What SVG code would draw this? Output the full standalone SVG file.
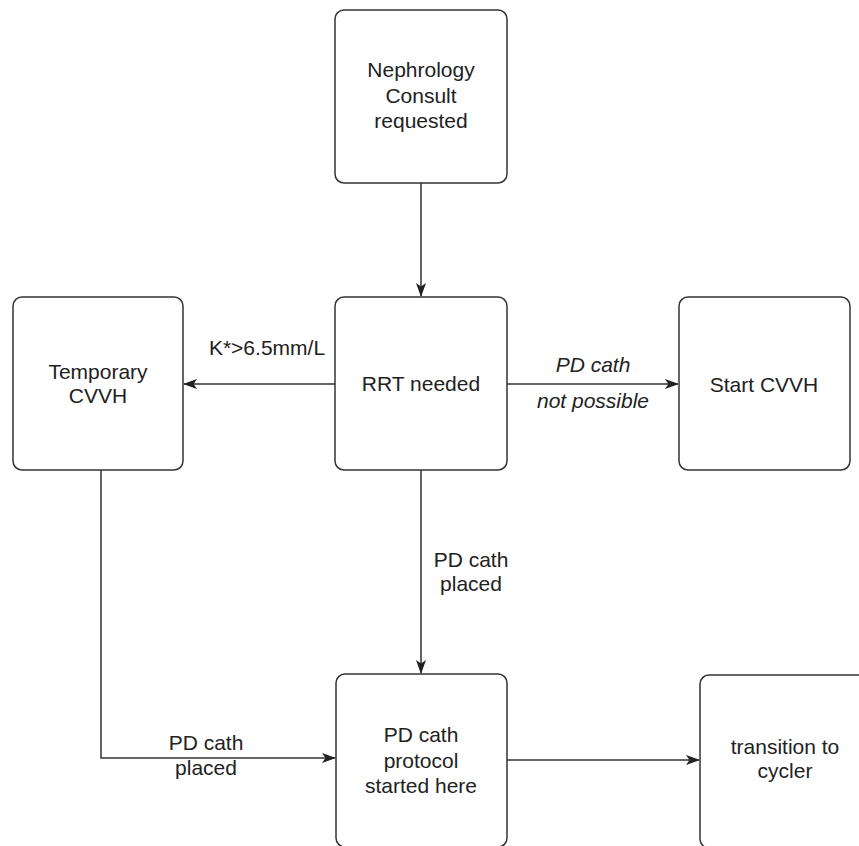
<svg xmlns="http://www.w3.org/2000/svg" width="859" height="846" viewBox="0 0 859 846">
<defs>
<style>
.box{fill:#fff;stroke:#333;stroke-width:1.5}
.t{font-family:"Liberation Sans",Arial,sans-serif;font-size:21px;fill:#222;text-anchor:middle}
.i{font-style:italic}
.c{fill:none;stroke:#333;stroke-width:1.5}
</style>
<marker id="ah" viewBox="0 0 14 10" refX="13" refY="5" markerWidth="14" markerHeight="10" markerUnits="userSpaceOnUse" orient="auto">
<path d="M0,0 L14,5 L0,10 L3.5,5 Z" fill="#222"/>
</marker>
</defs>
<rect width="859" height="846" fill="#fff"/>
<g id="connectors">
<line class="c" x1="421" y1="183" x2="421" y2="296" marker-end="url(#ah)"/>
<line class="c" x1="335" y1="384" x2="184" y2="384" marker-end="url(#ah)"/>
<line class="c" x1="507" y1="384" x2="678" y2="384" marker-end="url(#ah)"/>
<line class="c" x1="421" y1="470" x2="421" y2="673" marker-end="url(#ah)"/>
<polyline class="c" points="101,470 101,758 335,758" marker-end="url(#ah)"/>
<line class="c" x1="507" y1="760" x2="699" y2="760" marker-end="url(#ah)"/>
<text class="t" x="267" y="355">K*&gt;6.5mm/L</text>
<text class="t i" x="593" y="372">PD cath</text>
<text class="t i" x="593" y="408">not possible</text>
<text class="t" x="471" y="567">PD cath</text>
<text class="t" x="471" y="591">placed</text>
<text class="t" x="206" y="750">PD cath</text>
<text class="t" x="206" y="775">placed</text>
</g>
<g id="nephrology">
<rect class="box" x="335" y="10" width="172" height="173" rx="9"/>
<text class="t" x="421" y="77">Nephrology</text>
<text class="t" x="421" y="103">Consult</text>
<text class="t" x="421" y="128">requested</text>
</g>
<g id="temp-cvvh">
<rect class="box" x="13" y="297" width="170" height="173" rx="9"/>
<text class="t" x="98" y="379">Temporary</text>
<text class="t" x="98" y="403">CVVH</text>
</g>
<g id="rrt">
<rect class="box" x="335" y="297" width="172" height="173" rx="9"/>
<text class="t" x="421" y="391">RRT needed</text>
</g>
<g id="start-cvvh">
<rect class="box" x="679" y="297" width="171" height="173" rx="9"/>
<text class="t" x="764" y="392">Start CVVH</text>
</g>
<g id="pd-protocol">
<rect class="box" x="336" y="674" width="171" height="173" rx="9"/>
<text class="t" x="421" y="742">PD cath</text>
<text class="t" x="421" y="768">protocol</text>
<text class="t" x="421" y="793">started here</text>
</g>
<g id="cycler">
<rect class="box" x="700" y="675" width="171" height="173" rx="9"/>
<text class="t" x="785" y="754">transition to</text>
<text class="t" x="785" y="778">cycler</text>
</g>
</svg>
